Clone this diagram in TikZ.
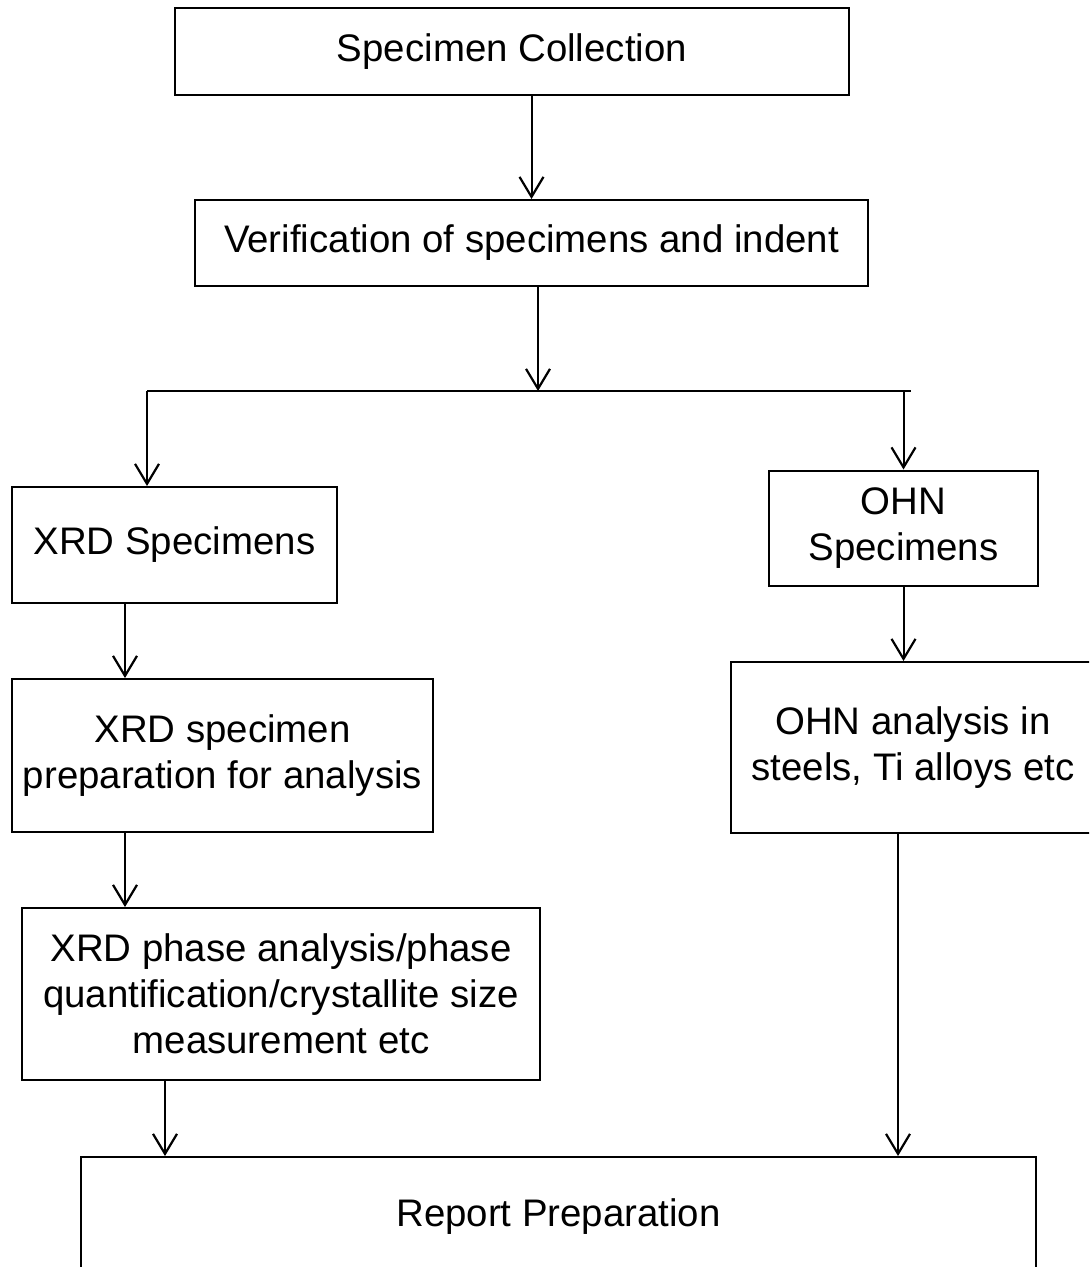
\documentclass[tikz,border=0pt]{standalone}
\usepackage{fontspec}
\setmainfont{Liberation Sans}
\usepackage{tikz}
\usetikzlibrary{arrows.meta, positioning}
\tikzstyle{stage} = [draw, rectangle, line width=1pt, align=center, inner sep=0pt, font=\fontsize{19.2}{23}\selectfont]
\tikzstyle{arrow} = [line width=1pt, -{Straight Barb[length=10pt, width=12pt, line width=1.1pt]}]
\tikzstyle{bar} = [line width=1pt]

\begin{document}
\begin{tikzpicture}[x=0.5pt, y=-0.5pt]
    \useasboundingbox (0,0) rectangle (1089,1267);
    \clip (0,0) rectangle (1089,1267);
    % top of the chart
    \node (collect) [stage, minimum width=337pt, minimum height=43.5pt] at (512,51.5) {Specimen Collection};
    \node (verify) [stage, minimum width=336.5pt, minimum height=43pt] at (531.5,243) {Verification of specimens and indent};
    % two branches
    \node (xrdspec) [stage, minimum width=162.5pt, minimum height=58pt] at (174.5,545) {XRD Specimens};
    \node (ohnspec) [stage, minimum width=134.5pt, minimum height=57.5pt] at (903.5,528) {OHN\\Specimens};
    \node (xrdprep) [stage, minimum width=210.5pt, minimum height=76.5pt] at (222.5,755.5) {XRD specimen\\preparation for analysis};
    \node (ohnanal) [stage, minimum width=182pt, minimum height=85.5pt] at (913,747.5) {OHN analysis in\\steels, Ti alloys etc};
    \node (xrdphase) [stage, minimum width=259pt, minimum height=86pt] at (281,994) {XRD phase analysis/phase\\quantification/crystallite size\\measurement etc};
    \node (report) [stage, minimum width=477.5pt, minimum height=63pt] at (558.5,1220) {};
    \node (reporttext) at (558.5,1217) [font=\fontsize{19.2}{23}\selectfont] {Report Preparation};
    % split line and arrow columns
    \coordinate (split) at (538,391);
    \coordinate (barL) at (147,391);
    \coordinate (barR) at (911,391);
    \coordinate (colA) at (125,0);
    \coordinate (colB) at (165,0);
    \coordinate (colC) at (898,0);
    \draw [arrow] (collect.south -| verify.north) -- (verify.north);
    \draw [arrow] (verify.south -| split) -- (split);
    \draw [bar] (barL) -- (barR);
    \draw [arrow] (barL) -- (barL |- xrdspec.north);
    \draw [arrow] (ohnspec.north |- barR) -- (ohnspec.north);
    \draw [arrow] (xrdspec.south -| colA) -- (xrdprep.north -| colA);
    \draw [arrow] (xrdprep.south -| colA) -- (xrdphase.north -| colA);
    \draw [arrow] (xrdphase.south -| colB) -- (report.north -| colB);
    \draw [arrow] (ohnspec.south) -- (ohnspec.south |- ohnanal.north);
    \draw [arrow] (ohnanal.south -| colC) -- (report.north -| colC);
\end{tikzpicture}
\end{document}
